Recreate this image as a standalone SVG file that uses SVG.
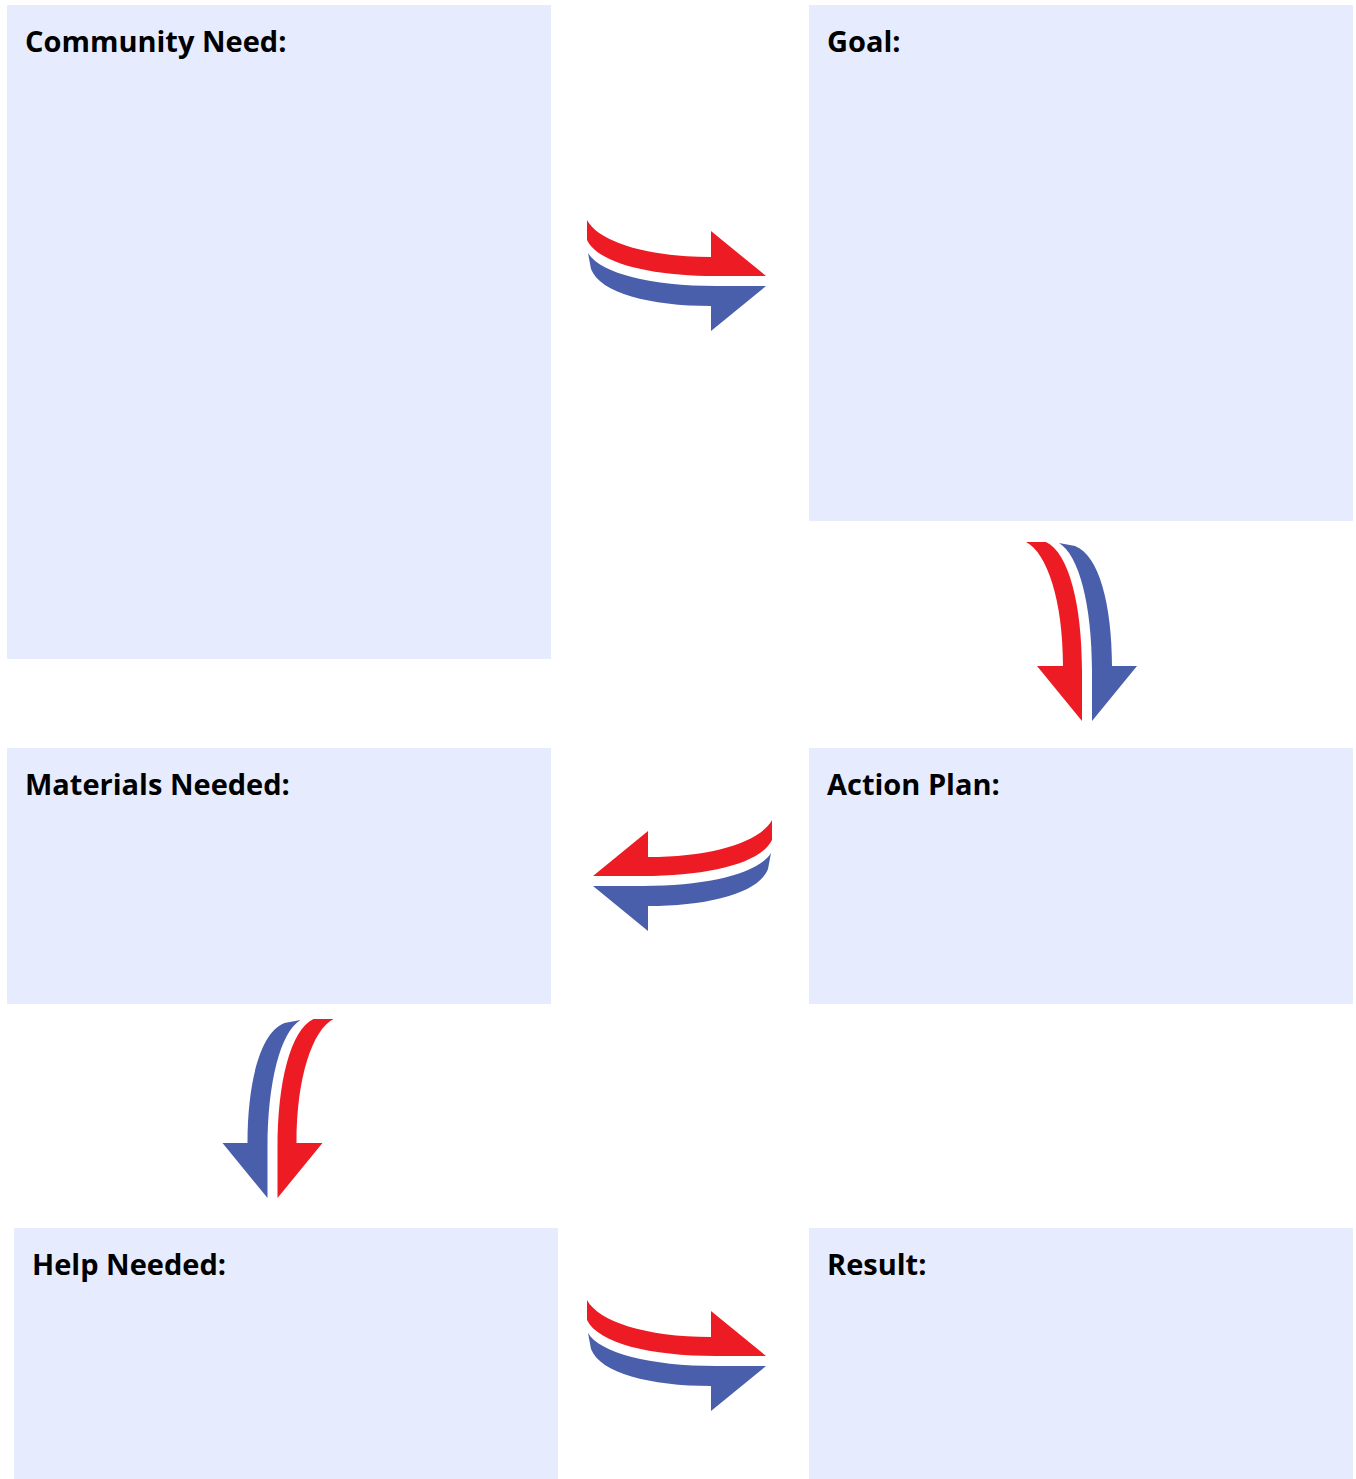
<svg xmlns="http://www.w3.org/2000/svg" width="1356" height="1479" viewBox="0 0 1356 1479">
<style>
.box{fill:#E6ECFE}
.lbl{font-family:"Open Sans","Noto Sans","DejaVu Sans",sans-serif;font-weight:700;font-size:29px;fill:#000}
.red{fill:#ED1C24}
.blue{fill:#4A5FAB}
</style>
<defs>
<g id="arrow">
<path class="red" d="M 587 220 C 598 241, 645 257, 711 257 L 711 231 L 766 276 L 716 276 C 650 276, 598 263, 587 240 Z"/>
<path class="blue" d="M 588 253 C 600 273, 650 286, 716 286 L 766 286 L 711 331 L 711 306 C 650 306, 600 293, 591 269 Z"/>
</g>
</defs>
<rect width="1356" height="1479" fill="#fff"/>
<g id="community-need"><rect class="box" x="7" y="5" width="544" height="654"/><text class="lbl" x="25" y="52">Community Need:</text></g>
<g id="goal"><rect class="box" x="809" y="5" width="544" height="516"/><text class="lbl" x="827" y="52">Goal:</text></g>
<g id="materials-needed"><rect class="box" x="7" y="748" width="544" height="256"/><text class="lbl" x="25" y="795">Materials Needed:</text></g>
<g id="action-plan"><rect class="box" x="809" y="748" width="544" height="256"/><text class="lbl" x="827" y="795">Action Plan:</text></g>
<g id="help-needed"><rect class="box" x="14" y="1228" width="544" height="251"/><text class="lbl" x="32" y="1275">Help Needed:</text></g>
<g id="result"><rect class="box" x="809" y="1228" width="544" height="251"/><text class="lbl" x="827" y="1275">Result:</text></g>
<g id="connectors">
<use href="#arrow"/>
<use href="#arrow" transform="matrix(0,1,1,0,806,-45)"/>
<use href="#arrow" transform="matrix(-1,0,0,1,1359,600)"/>
<use href="#arrow" transform="matrix(0,1,-1,0,553.5,432)"/>
<use href="#arrow" transform="translate(0,1080)"/>
</g>
</svg>
